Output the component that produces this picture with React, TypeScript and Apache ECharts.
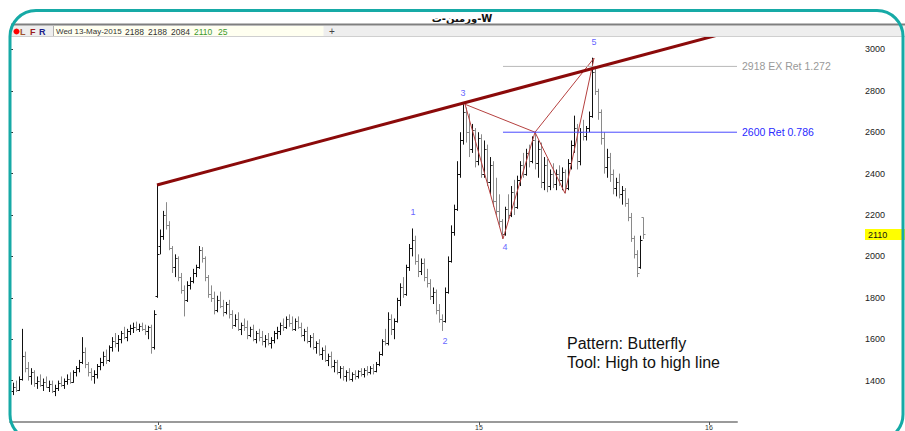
import React, { useEffect, useRef } from "react";
import * as echarts from "echarts";

// Daily bars: [open, high, low, close], one per trading day (x index = position + 1)
const BARS: number[][] = [
  [1350, 1390, 1330, 1370], [1370, 1400, 1345, 1355], [1355, 1420, 1350, 1410], [1410, 1650, 1400, 1520],
  [1520, 1540, 1440, 1460], [1460, 1490, 1400, 1420], [1420, 1460, 1380, 1440], [1440, 1450, 1370, 1390],
  [1390, 1420, 1360, 1400], [1400, 1430, 1370, 1380], [1380, 1410, 1350, 1395], [1395, 1420, 1365, 1370],
  [1370, 1400, 1345, 1385], [1385, 1400, 1340, 1350], [1350, 1380, 1325, 1365], [1365, 1400, 1350, 1390],
  [1390, 1420, 1370, 1380], [1380, 1410, 1360, 1400], [1400, 1430, 1380, 1410], [1410, 1440, 1385, 1395],
  [1395, 1450, 1390, 1440], [1440, 1470, 1420, 1460], [1460, 1500, 1440, 1490], [1490, 1610, 1480, 1540],
  [1540, 1560, 1460, 1480], [1480, 1490, 1420, 1440], [1440, 1460, 1400, 1420], [1420, 1450, 1385, 1430],
  [1430, 1480, 1410, 1470], [1470, 1510, 1450, 1490], [1490, 1540, 1470, 1520], [1520, 1550, 1480, 1500],
  [1500, 1570, 1490, 1560], [1560, 1610, 1540, 1590], [1590, 1630, 1560, 1580], [1580, 1620, 1540, 1600],
  [1600, 1640, 1580, 1630], [1630, 1660, 1600, 1610], [1610, 1650, 1590, 1640], [1640, 1670, 1620, 1655],
  [1655, 1680, 1630, 1660], [1660, 1685, 1640, 1650], [1650, 1675, 1635, 1665], [1665, 1680, 1640, 1650],
  [1650, 1670, 1620, 1640], [1640, 1665, 1600, 1660], [1660, 1670, 1530, 1560], [1560, 1740, 1550, 1720],
  [1810, 2345, 1800, 2010], [2050, 2130, 2010, 2100], [2100, 2220, 2080, 2200], [2200, 2262, 2130, 2150],
  [2150, 2170, 2030, 2040], [2040, 2050, 1920, 1950], [1950, 2010, 1900, 1990], [1990, 2000, 1880, 1900],
  [1900, 1920, 1820, 1840], [1840, 1860, 1710, 1790], [1790, 1880, 1780, 1860], [1860, 1900, 1840, 1880],
  [1880, 1940, 1870, 1920], [1920, 1960, 1900, 1950], [1950, 2050, 1940, 2030], [2030, 2045, 1970, 1990],
  [1990, 2000, 1880, 1900], [1900, 1910, 1800, 1820], [1820, 1860, 1780, 1800], [1800, 1830, 1720, 1740],
  [1740, 1810, 1730, 1790], [1790, 1830, 1750, 1760], [1760, 1790, 1710, 1730], [1730, 1780, 1720, 1770],
  [1770, 1790, 1700, 1720], [1720, 1740, 1650, 1670], [1670, 1720, 1660, 1700], [1700, 1730, 1640, 1650],
  [1650, 1680, 1620, 1670], [1670, 1700, 1640, 1660], [1660, 1690, 1600, 1620], [1620, 1660, 1610, 1650],
  [1650, 1670, 1590, 1600], [1600, 1640, 1580, 1630], [1630, 1650, 1590, 1610], [1610, 1640, 1570, 1590],
  [1590, 1620, 1560, 1600], [1600, 1630, 1570, 1580], [1580, 1610, 1555, 1595], [1595, 1640, 1580, 1630],
  [1630, 1660, 1600, 1640], [1640, 1680, 1620, 1670], [1670, 1700, 1640, 1660], [1660, 1710, 1650, 1700],
  [1700, 1720, 1660, 1680], [1680, 1710, 1640, 1650], [1650, 1700, 1640, 1690], [1690, 1710, 1650, 1660],
  [1660, 1680, 1610, 1620], [1620, 1650, 1590, 1640], [1640, 1660, 1580, 1590], [1590, 1620, 1560, 1610],
  [1610, 1630, 1550, 1560], [1560, 1590, 1530, 1580], [1580, 1600, 1520, 1530], [1530, 1560, 1500, 1550],
  [1550, 1570, 1490, 1500], [1500, 1530, 1470, 1520], [1520, 1540, 1460, 1470], [1470, 1500, 1440, 1490],
  [1490, 1500, 1430, 1440], [1440, 1470, 1410, 1460], [1460, 1470, 1400, 1420], [1420, 1450, 1395, 1440],
  [1440, 1460, 1400, 1410], [1410, 1440, 1395, 1430], [1430, 1450, 1405, 1420], [1420, 1450, 1410, 1445],
  [1445, 1460, 1420, 1430], [1430, 1460, 1415, 1450], [1450, 1470, 1425, 1440], [1440, 1470, 1430, 1460],
  [1460, 1480, 1430, 1445], [1445, 1490, 1440, 1480], [1480, 1540, 1470, 1530], [1530, 1600, 1520, 1590],
  [1590, 1650, 1570, 1580], [1580, 1730, 1570, 1700], [1700, 1720, 1620, 1650], [1650, 1700, 1600, 1690],
  [1690, 1800, 1680, 1790], [1790, 1870, 1760, 1850], [1850, 1900, 1800, 1820], [1820, 1960, 1810, 1950],
  [1950, 2060, 1930, 2040], [2040, 2135, 2000, 2080], [2080, 2100, 1960, 1980], [1980, 2010, 1900, 1930],
  [1930, 1990, 1910, 1970], [1970, 1990, 1880, 1900], [1900, 1940, 1850, 1870], [1870, 1890, 1790, 1810],
  [1810, 1850, 1770, 1830], [1830, 1840, 1720, 1740], [1740, 1770, 1680, 1700], [1700, 1720, 1640, 1690],
  [1690, 1850, 1680, 1830], [1830, 2000, 1820, 1980], [1980, 2150, 1970, 2120], [2120, 2250, 2100, 2230],
  [2230, 2460, 2220, 2400], [2400, 2600, 2380, 2560], [2560, 2735, 2540, 2700], [2700, 2720, 2550, 2600],
  [2600, 2690, 2480, 2520], [2520, 2640, 2500, 2610], [2610, 2620, 2430, 2460], [2460, 2600, 2440, 2570],
  [2570, 2590, 2380, 2400], [2400, 2560, 2380, 2520], [2520, 2540, 2340, 2360], [2360, 2480, 2300, 2440],
  [2440, 2460, 2240, 2270], [2270, 2380, 2200, 2220], [2220, 2300, 2150, 2170], [2170, 2180, 2085, 2110],
  [2110, 2240, 2100, 2230], [2230, 2300, 2180, 2200], [2200, 2340, 2190, 2310], [2310, 2370, 2200, 2240],
  [2240, 2390, 2230, 2370], [2370, 2460, 2340, 2440], [2440, 2500, 2380, 2400], [2400, 2520, 2390, 2500],
  [2500, 2540, 2430, 2460], [2460, 2580, 2450, 2560], [2560, 2600, 2420, 2450], [2450, 2560, 2380, 2520],
  [2520, 2550, 2330, 2360], [2360, 2480, 2320, 2440], [2440, 2470, 2310, 2340], [2340, 2420, 2320, 2400],
  [2400, 2450, 2330, 2350], [2350, 2420, 2320, 2400], [2400, 2440, 2340, 2370], [2370, 2430, 2320, 2410],
  [2410, 2420, 2305, 2330], [2330, 2470, 2320, 2450], [2450, 2560, 2420, 2540], [2540, 2680, 2500, 2620],
  [2620, 2640, 2420, 2460], [2460, 2620, 2440, 2600], [2600, 2660, 2560, 2580], [2580, 2630, 2560, 2620],
  [2620, 2700, 2600, 2680], [2680, 2960, 2670, 2890], [2890, 2920, 2780, 2800], [2800, 2810, 2660, 2700],
  [2700, 2710, 2540, 2570], [2570, 2600, 2400, 2430], [2430, 2520, 2380, 2480], [2480, 2500, 2360, 2400],
  [2400, 2420, 2300, 2330], [2330, 2380, 2290, 2360], [2360, 2400, 2280, 2300], [2300, 2340, 2250, 2320],
  [2320, 2330, 2240, 2260], [2260, 2280, 2170, 2190], [2190, 2210, 2070, 2090], [2090, 2100, 1990, 2010],
  [2010, 2030, 1900, 1920], [1950, 2100, 1940, 2080], [2188, 2188, 2084, 2110],
];

// Axis domain (bar index units)
const X_MIN = 0;
const X_MAX = 242.33;
const Y_MIN = 1200;
const Y_MAX = 3060;
const Y_STEP = 200;

// Year tick labels and their bar-index positions
const X_TICK_LABELS = ["14", "15", "16"];
const X_TICK_AT = [49.3, 156.3, 233];

// High-to-high trend line anchors [index, price]
const TREND_ANCHORS = [[49, 2345], [151.67, 2743]];

// Butterfly pattern points X(3), A(4), B, C, D(5)
const PAT_X = [151.67, 2735];
const PAT_A = [164.33, 2085];
const PAT_B = [175, 2600];
const PAT_C = [185, 2305];
const PAT_D = [194.67, 2958];

// Wave labels
const WAVE_LABELS = ["1", "2", "3", "4", "5"];
const WAVE_POINTS = [[134.33, 2214], [145, 1589], [151, 2791], [165, 2046], [194.67, 3036]];

// Fib levels
const FIB_START = 164.33;
const FIB_LEVELS = [2918, 2600];
const FIB_TEXTS = ["2918 EX Ret 1.272", "2600 Ret 0.786"];

// Header info
const INFO_DATE = "Wed 13-May-2015";
const INFO_VALUES = ["2188", "2188", "2084", "2110", "25"];
const LAST_CLOSE = 2110;
const TITLE = "\u202BW-ورمین-ت\u202C";
const NOTE_LINES = ["Pattern: Butterfly", "Tool: High to high line"];

const FONT = "'Liberation Sans', Arial, sans-serif";

export default function App() {
  const ref = useRef<HTMLDivElement>(null);

  useEffect(() => {
    if (!ref.current) return;
    const chart = echarts.init(ref.current, undefined, { renderer: "svg" });

    const slope = (TREND_ANCHORS[1][1] - TREND_ANCHORS[0][1]) / (TREND_ANCHORS[1][0] - TREND_ANCHORS[0][0]);
    const trendEnd = TREND_ANCHORS[0][1] + (X_MAX - TREND_ANCHORS[0][0]) * slope;

    const ohlcData = BARS.map((b, i) => [i + 1, b[0], b[1], b[2], b[3]]);

    const option: any = {
      animation: false,
      backgroundColor: "#ffffff",
      grid: { left: 10, right: 168, top: 37, bottom: 8, containLabel: false },
      xAxis: {
        type: "value",
        min: X_MIN,
        max: X_MAX,
        splitLine: { show: false },
        axisLine: { show: true, lineStyle: { color: "#9a9a9a", width: 2 } },
        axisTick: { show: true, customValues: X_TICK_AT, length: 3, lineStyle: { color: "#555" } },
        axisLabel: {
          show: true,
          customValues: X_TICK_AT,
          fontSize: 7,
          color: "#333",
          margin: 2,
          fontFamily: FONT,
          formatter: (v: number) => {
            const idx = X_TICK_AT.findIndex((t) => Math.abs(t - v) < 0.01);
            return idx >= 0 ? X_TICK_LABELS[idx] : "";
          },
        },
      },
      yAxis: {
        type: "value",
        position: "right",
        offset: 127,
        min: Y_MIN,
        max: Y_MAX,
        interval: Y_STEP,
        splitLine: { show: false },
        axisLine: { show: true, lineStyle: { color: "#777", width: 1 } },
        axisTick: { show: true, length: 3, lineStyle: { color: "#333" } },
        axisLabel: {
          fontSize: 9,
          color: "#222",
          margin: 1,
          fontFamily: FONT,
          showMinLabel: false,
          showMaxLabel: false,
          formatter: (v: number) => String(v),
        },
      },
      series: [
        {
          type: "custom",
          name: "OHLC",
          clip: true,
          encode: { x: 0, y: [1, 2, 3, 4] },
          data: ohlcData,
          renderItem: (params: any, api: any) => {
            const k = api.value(0);
            const o = api.value(1);
            const h = api.value(2);
            const l = api.value(3);
            const c = api.value(4);
            const pH = api.coord([k, h]);
            const pL = api.coord([k, l]);
            const pO = api.coord([k, o]);
            const pC = api.coord([k, c]);
            const x = Math.round(pH[0]) + 0.5;
            const color = c >= o ? "#111111" : "#8a8a8a";
            const yo = Math.round(pO[1]) + 0.5;
            const yc = Math.round(pC[1]) + 0.5;
            return {
              type: "group",
              children: [
                { type: "line", shape: { x1: x, y1: pH[1], x2: x, y2: pL[1] }, style: { stroke: color, lineWidth: 1 } },
                { type: "line", shape: { x1: x - 2, y1: yo, x2: x, y2: yo }, style: { stroke: color, lineWidth: 1 } },
                { type: "line", shape: { x1: x, y1: yc, x2: x + 2, y2: yc }, style: { stroke: color, lineWidth: 1 } },
              ],
            };
          },
          silent: true,
          z: 2,
        },
        {
          type: "line",
          name: "Trend",
          data: [TREND_ANCHORS[0], [X_MAX, trendEnd]],
          symbol: "none",
          clip: true,
          lineStyle: { color: "#8b0a0a", width: 3 },
          silent: true,
          z: 4,
        },
        {
          type: "line",
          name: "Pattern",
          data: [PAT_X, PAT_A, PAT_B, PAT_C, PAT_D, PAT_B],
          symbol: "none",
          lineStyle: { color: "#b5403f", width: 1 },
          silent: true,
          z: 3,
        },
        {
          type: "line",
          name: "PatternXB",
          data: [PAT_X, PAT_B],
          symbol: "none",
          lineStyle: { color: "#b5403f", width: 1 },
          silent: true,
          z: 3,
        },
        ...FIB_LEVELS.map((lv, i) => ({
          type: "line",
          name: FIB_TEXTS[i],
          data: [[FIB_START, lv], [X_MAX, lv]],
          symbol: "none",
          lineStyle: { color: i === 0 ? "#b8b8b8" : "#4a4aff", width: 1 },
          endLabel: {
            show: true,
            formatter: FIB_TEXTS[i],
            color: i === 0 ? "#999999" : "#2a2aff",
            fontSize: 10.5,
            fontFamily: FONT,
            distance: 5,
          },
          silent: true,
          z: 3,
        })),
        {
          type: "scatter",
          name: "Waves",
          symbolSize: 0,
          data: WAVE_POINTS.map((p, i) => ({ value: p, name: WAVE_LABELS[i] })),
          label: {
            show: true,
            position: "inside",
            formatter: (p: any) => p.name,
            color: "#3a3aff",
            fontSize: 9,
            fontFamily: FONT,
          },
          silent: true,
          z: 5,
        },
      ],
    };

    chart.setOption(option);

    const yLast = chart.convertToPixel({ yAxisIndex: 0 }, LAST_CLOSE) as number;
    const infoX = [125, 148, 171, 194, 218];

    chart.setOption({
      graphic: [
        // teal frame
        {
          type: "rect",
          shape: { x: 10, y: 10.5, width: 893, height: 430, r: 26 },
          style: { fill: "none", stroke: "#16aaa6", lineWidth: 3 },
          z: 100,
          silent: true,
        },
        // title
        {
          type: "text",
          x: 462,
          y: 18,
          style: {
            text: TITLE,
            fontSize: 10,
            fontWeight: "bold",
            fontFamily: "'DejaVu Sans', sans-serif",
            fill: "#111",
            align: "center",
            verticalAlign: "middle",
          },
          z: 50,
        },
        // dark separator
        { type: "rect", shape: { x: 11, y: 23.5, width: 894, height: 2 }, style: { fill: "#7f7f7f" }, z: 50, silent: true },
        // toolbar background
        { type: "rect", shape: { x: 11, y: 25.5, width: 894, height: 10.5 }, style: { fill: "#eeeeee" }, z: 49, silent: true },
        { type: "line", shape: { x1: 11, y1: 36.5, x2: 905, y2: 36.5 }, style: { stroke: "#cfcfcf", lineWidth: 1 }, z: 50, silent: true },
        // info field
        { type: "rect", shape: { x: 53.5, y: 26, width: 270, height: 10 }, style: { fill: "#fffff0" }, z: 50, silent: true },
        { type: "line", shape: { x1: 53.5, y1: 26, x2: 53.5, y2: 36 }, style: { stroke: "#b0b0b0", lineWidth: 1 }, z: 51, silent: true },
        { type: "circle", shape: { cx: 16.5, cy: 31.5, r: 3 }, style: { fill: "#ff0000" }, z: 51, silent: true },
        { type: "text", x: 20, y: 31.5, style: { text: "L", fontSize: 9, fontFamily: FONT, fill: "#a0522d", verticalAlign: "middle", fontWeight: "bold" }, z: 51 },
        { type: "text", x: 30, y: 31.5, style: { text: "F", fontSize: 9, fontFamily: FONT, fill: "#9b1c1c", verticalAlign: "middle", fontWeight: "bold" }, z: 51 },
        { type: "text", x: 39, y: 31.5, style: { text: "R", fontSize: 9, fontFamily: FONT, fill: "#1c1c8b", verticalAlign: "middle", fontWeight: "bold" }, z: 51 },
        { type: "text", x: 56, y: 31.5, style: { text: INFO_DATE, fontSize: 8, fontFamily: FONT, fill: "#333", verticalAlign: "middle" }, z: 51 },
        ...INFO_VALUES.map((t, i) => ({
          type: "text",
          x: infoX[i],
          y: 31.5,
          style: { text: t, fontSize: 8.5, fontFamily: FONT, fill: i >= 3 ? "#3c9a2c" : "#333", verticalAlign: "middle" },
          z: 51,
        })),
        { type: "text", x: 332, y: 31.5, style: { text: "+", fontSize: 10, fontFamily: FONT, fill: "#444", align: "center", verticalAlign: "middle" }, z: 51 },
        // last close marker
        { type: "rect", shape: { x: 865, y: Math.round(yLast) - 5, width: 40, height: 11 }, style: { fill: "#ffff00" }, z: 60, silent: true },
        {
          type: "text",
          x: 868,
          y: Math.round(yLast) + 0.5,
          style: { text: String(LAST_CLOSE), fontSize: 9, fontFamily: FONT, fill: "#111", verticalAlign: "middle" },
          z: 61,
        },
        // notes
        ...NOTE_LINES.map((t, i) => ({
          type: "text",
          x: 567,
          y: 343 + i * 19,
          style: { text: t, fontSize: 16, fontFamily: FONT, fill: "#111", verticalAlign: "middle" },
          z: 40,
        })),
      ],
    });

    return () => chart.dispose();
  }, []);

  return (
    <div
      ref={ref}
      style={{ position: "fixed", left: 0, top: 0, width: 905, height: 431, background: "#fff" }}
    />
  );
}
